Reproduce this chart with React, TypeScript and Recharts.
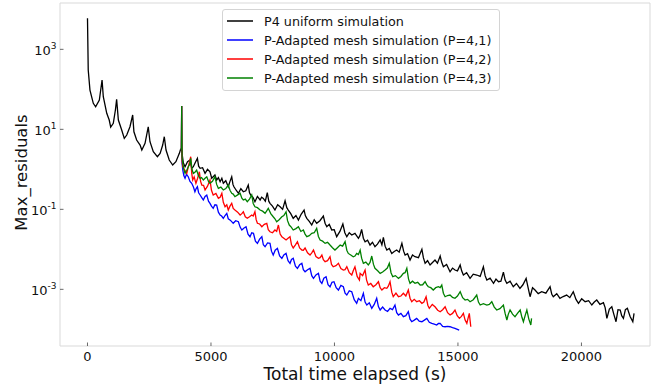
import React from 'react';
import { LineChart, Line, XAxis, YAxis, Legend, ReferenceArea, Label } from 'recharts';

// [time (s), max residual] pairs
const P4_UNIFORM: [number, number][] = [
  [0, 5960], [30, 304], [100, 96], [235, 44.7], [330, 36.7], [480, 54], [590, 171], [640, 65.3],
  [780, 25.1], [880, 17.1], [940, 11.4], [1045, 14.1], [1130, 30.4], [1180, 56.2], [1250, 17.1],
  [1385, 9.6], [1490, 5.96], [1590, 7.2], [1720, 11.6], [1830, 22.8], [1880, 8.7], [1990, 5.4],
  [2130, 4.05], [2200, 3.04], [2330, 4.47], [2460, 11.6], [2530, 4.9], [2665, 2.75], [2830, 2.07],
  [2940, 2.51], [3045, 4.05], [3110, 6.53], [3180, 3.04], [3310, 1.71], [3450, 1.28], [3580, 1.55],
  [3720, 2.51], [3770, 3.16], [3810, 3.04], [3880, 1.45], [3950, 1.16], [4050, 1.55], [4150, 1.71],
  [4220, 1.05], [4285, 1.16], [4370, 1.5], [4450, 1.88], [4500, 1.2], [4560, 1.06], [4660, 1.1],
  [4760, 0.794], [4860, 1.0], [4960, 0.871], [5030, 0.6], [5090, 0.653], [5160, 0.72], [5230, 0.54],
  [5300, 0.62], [5370, 0.49], [5440, 0.6], [5500, 0.447], [5600, 0.52], [5700, 0.367], [5770, 0.5],
  [5840, 0.653], [5890, 0.42], [5930, 0.367], [6020, 0.3], [6110, 0.251], [6210, 0.33], [6310, 0.275],
  [6410, 0.29], [6510, 0.405], [6560, 0.26], [6610, 0.228], [6700, 0.2], [6780, 0.155], [6880, 0.21],
  [6990, 0.171], [7050, 0.2], [7120, 0.188], [7200, 0.16], [7280, 0.26], [7340, 0.16], [7390, 0.141],
  [7490, 0.12], [7590, 0.096], [7700, 0.13], [7800, 0.116], [7900, 0.1], [8000, 0.164], [8070, 0.11],
  [8130, 0.096], [8230, 0.078], [8330, 0.0596], [8440, 0.07], [8540, 0.054], [8650, 0.075], [8770, 0.096],
  [8820, 0.07], [8880, 0.0596], [8980, 0.05], [9080, 0.0405], [9180, 0.055], [9280, 0.0447], [9410, 0.052],
  [9550, 0.068], [9620, 0.045], [9690, 0.0367], [9790, 0.042], [9890, 0.0304], [9990, 0.031], [10090, 0.0207],
  [10220, 0.028], [10340, 0.0429], [10420, 0.026], [10500, 0.0207], [10600, 0.026], [10700, 0.0228],
  [10830, 0.025], [10970, 0.0188], [11030, 0.022], [11100, 0.0316], [11170, 0.019], [11240, 0.0155],
  [11340, 0.017], [11440, 0.0128], [11540, 0.015], [11640, 0.0116], [11740, 0.0135], [11850, 0.0171],
  [11920, 0.013], [11980, 0.02], [12050, 0.012], [12120, 0.0096], [12220, 0.0105], [12320, 0.0079],
  [12420, 0.0088], [12520, 0.0096], [12620, 0.0085], [12730, 0.0141], [12800, 0.009], [12860, 0.0072],
  [12960, 0.0078], [13060, 0.0054], [13160, 0.0072], [13260, 0.00653], [13400, 0.0062], [13540, 0.01],
  [13600, 0.0062], [13670, 0.00447], [13770, 0.0052], [13870, 0.00405], [13970, 0.0047], [14070, 0.0054],
  [14170, 0.0045], [14280, 0.0068], [14340, 0.0048], [14410, 0.00367], [14540, 0.0042], [14680, 0.00275],
  [14780, 0.0034], [14880, 0.00304], [14980, 0.0029], [15090, 0.00405], [15150, 0.0029], [15220, 0.00228],
  [15350, 0.0026], [15490, 0.00188], [15620, 0.0024], [15760, 0.00228], [15900, 0.0021], [16030, 0.00367],
  [16100, 0.0022], [16170, 0.00171], [16300, 0.0019], [16440, 0.00141], [16540, 0.0018], [16640, 0.00155],
  [16740, 0.0016], [16840, 0.0027], [16910, 0.0017], [16980, 0.00141], [17110, 0.0016], [17240, 0.00116],
  [17370, 0.0014], [17510, 0.00106], [17630, 0.0013], [17760, 0.00188], [17840, 0.0011], [17920, 0.000653],
  [18020, 0.0011], [18120, 0.00096], [18250, 0.00078], [18390, 0.00087], [18560, 0.0008], [18730, 0.00116],
  [18800, 0.00075], [18860, 0.000653], [19000, 0.00078], [19130, 0.000596], [19260, 0.00066], [19400, 0.00072],
  [19530, 0.00062], [19670, 0.00087], [19780, 0.00056], [19880, 0.000447], [20010, 0.00058], [20150, 0.00049],
  [20290, 0.00052], [20420, 0.000405], [20520, 0.00048], [20620, 0.00054], [20750, 0.00042], [20890, 0.000462],
  [20960, 0.00035], [21030, 0.000188], [21130, 0.00032], [21230, 0.000367], [21310, 0.00024], [21400, 0.000155],
  [21480, 0.00031], [21570, 0.000304], [21630, 0.00022], [21700, 0.000188], [21780, 0.00031], [21860, 0.000335],
  [21970, 0.00021], [22080, 0.000155], [22130, 0.000251],
];

const P_ADAPTED_41: [number, number][] = [
  [3800, 3.0], [3815, 38.2], [3830, 1.4], [3860, 0.96], [3900, 0.7], [3950, 0.596], [4010, 0.75], [4080, 0.653],
  [4150, 0.5], [4220, 0.447], [4290, 0.36], [4350, 0.275], [4400, 0.33], [4450, 0.367], [4500, 0.26],
  [4560, 0.228], [4620, 0.2], [4690, 0.171], [4760, 0.21], [4830, 0.228], [4900, 0.16], [4960, 0.141],
  [5020, 0.12], [5090, 0.106], [5160, 0.13], [5230, 0.128], [5300, 0.085], [5370, 0.072], [5430, 0.068],
  [5500, 0.0596], [5570, 0.07], [5640, 0.0794], [5700, 0.058], [5770, 0.054], [5830, 0.05], [5900, 0.0447],
  [6000, 0.052], [6110, 0.049], [6180, 0.036], [6250, 0.0304], [6340, 0.034], [6420, 0.0367], [6500, 0.024],
  [6580, 0.0207], [6650, 0.026], [6720, 0.0251], [6800, 0.016], [6880, 0.0141], [6970, 0.018], [7060, 0.0207],
  [7120, 0.013], [7190, 0.0116], [7290, 0.0145], [7390, 0.0141], [7450, 0.009], [7520, 0.0072], [7600, 0.0095],
  [7690, 0.0106], [7780, 0.0068], [7870, 0.00596], [7950, 0.0072], [8040, 0.0079], [8120, 0.0052],
  [8200, 0.00447], [8260, 0.0056], [8330, 0.00596], [8420, 0.0038], [8500, 0.00335], [8590, 0.0041],
  [8680, 0.00447], [8740, 0.0031], [8810, 0.00275], [8910, 0.0031], [9010, 0.00335], [9080, 0.0022],
  [9150, 0.00188], [9250, 0.0023], [9350, 0.00251], [9420, 0.0016], [9490, 0.00141], [9570, 0.0019],
  [9660, 0.00207], [9740, 0.0013], [9820, 0.00116], [9900, 0.0015], [9980, 0.00155], [10070, 0.0011],
  [10160, 0.00096], [10260, 0.00125], [10360, 0.00116], [10430, 0.0008], [10500, 0.00072], [10600, 0.00092],
  [10700, 0.00087], [10800, 0.00055], [10900, 0.000447], [10970, 0.000596], [11070, 0.00052], [11170, 0.000794],
  [11240, 0.00048], [11310, 0.000405], [11410, 0.00046], [11510, 0.000335], [11610, 0.00042], [11710, 0.000596],
  [11780, 0.00037], [11850, 0.000304], [11950, 0.00036], [12050, 0.000304], [12150, 0.00028], [12250, 0.000335],
  [12350, 0.00031], [12450, 0.000405], [12520, 0.00026], [12590, 0.000228], [12690, 0.00025], [12790, 0.000207],
  [12890, 0.00022], [12990, 0.000275], [13060, 0.00018], [13130, 0.000155], [13230, 0.00017], [13330, 0.000188],
  [13430, 0.00016], [13540, 0.000155], [13640, 0.00017], [13740, 0.000188], [13840, 0.00015], [13940, 0.000141],
  [14040, 0.000135], [14140, 0.000128], [14210, 0.00014], [14280, 0.000141], [14380, 0.000118], [14480, 0.000116],
  [14580, 0.000118], [14680, 0.000116], [14780, 0.00011], [14880, 0.000106], [15050, 0.000096],
];

const P_ADAPTED_42: [number, number][] = [
  [3800, 3.0], [3815, 38.2], [3830, 1.6], [3860, 1.16], [3940, 0.95], [4020, 0.794], [4100, 1.3], [4180, 2.07],
  [4220, 0.8], [4260, 0.54], [4320, 0.65], [4390, 0.447], [4460, 0.6], [4530, 0.871], [4580, 0.5], [4630, 0.405],
  [4700, 0.4], [4760, 0.304], [4860, 0.38], [4960, 0.54], [5020, 0.3], [5090, 0.228], [5200, 0.25], [5300, 0.188],
  [5370, 0.2], [5440, 0.251], [5500, 0.15], [5570, 0.116], [5640, 0.13], [5700, 0.096], [5770, 0.12],
  [5840, 0.141], [5900, 0.105], [5970, 0.096], [6080, 0.085], [6180, 0.072], [6250, 0.078], [6310, 0.087],
  [6390, 0.065], [6470, 0.0596], [6560, 0.065], [6650, 0.072], [6710, 0.068], [6780, 0.087], [6830, 0.055],
  [6880, 0.0447], [6970, 0.043], [7060, 0.0367], [7160, 0.042], [7260, 0.0447], [7320, 0.031], [7390, 0.0275],
  [7490, 0.026], [7590, 0.0304], [7660, 0.028], [7730, 0.0405], [7800, 0.024], [7870, 0.0207], [7950, 0.019],
  [8040, 0.0171], [8120, 0.019], [8200, 0.0207], [8260, 0.013], [8330, 0.0108], [8420, 0.013], [8500, 0.0155],
  [8590, 0.0108], [8680, 0.0096], [8740, 0.0095], [8810, 0.0108], [8910, 0.0082], [9010, 0.0072], [9080, 0.0082],
  [9150, 0.0096], [9250, 0.0066], [9350, 0.00596], [9420, 0.0062], [9490, 0.0072], [9550, 0.0055], [9620, 0.0049],
  [9720, 0.0052], [9820, 0.00653], [9880, 0.0042], [9950, 0.00367], [10060, 0.0039], [10160, 0.00447],
  [10260, 0.0033], [10360, 0.00304], [10430, 0.0031], [10500, 0.00367], [10600, 0.0026], [10700, 0.00228],
  [10760, 0.0029], [10830, 0.00367], [10920, 0.0021], [11010, 0.00171], [11040, 0.00251], [11140, 0.0022],
  [11240, 0.00304], [11300, 0.0017], [11370, 0.00128], [11470, 0.0014], [11570, 0.00116], [11680, 0.0013],
  [11780, 0.00155], [11850, 0.0011], [11920, 0.00096], [12020, 0.0011], [12120, 0.00106], [12180, 0.0012],
  [12250, 0.00155], [12320, 0.00085], [12380, 0.000653], [12490, 0.0008], [12590, 0.000653], [12690, 0.00068],
  [12790, 0.000794], [12890, 0.00068], [12990, 0.00096], [13060, 0.0006], [13130, 0.00049], [13230, 0.00056],
  [13330, 0.00049], [13440, 0.00052], [13540, 0.000447], [13620, 0.00048], [13710, 0.000653], [13780, 0.0004],
  [13840, 0.000335], [13960, 0.00042], [14070, 0.000367], [14180, 0.0003], [14280, 0.000275], [14380, 0.00031],
  [14480, 0.000367], [14580, 0.00026], [14680, 0.000228], [14780, 0.00025], [14880, 0.000304], [14970, 0.00022],
  [15060, 0.000188], [15140, 0.00021], [15220, 0.000251], [15290, 0.00017], [15360, 0.000141], [15410, 0.00019],
  [15460, 0.000251], [15520, 0.000116],
];

const P_ADAPTED_43: [number, number][] = [
  [3800, 3.0], [3815, 38.2], [3830, 2.0], [3860, 1.41], [3900, 1.0], [3950, 0.794], [4020, 0.95], [4080, 1.16],
  [4130, 1.3], [4180, 1.88], [4230, 1.0], [4285, 0.794], [4350, 0.85], [4420, 0.96], [4490, 0.7], [4560, 0.596],
  [4620, 0.62], [4690, 0.54], [4760, 0.6], [4830, 0.653], [4900, 0.5], [4960, 0.447], [5060, 0.5], [5160, 0.653],
  [5230, 0.42], [5300, 0.335], [5400, 0.36], [5500, 0.304], [5600, 0.33], [5700, 0.405], [5770, 0.3],
  [5840, 0.251], [5900, 0.24], [5970, 0.207], [6080, 0.23], [6180, 0.251], [6250, 0.19], [6310, 0.171],
  [6390, 0.18], [6470, 0.155], [6560, 0.18], [6650, 0.228], [6710, 0.14], [6780, 0.116], [6880, 0.11],
  [6990, 0.096], [7090, 0.09], [7190, 0.0794], [7250, 0.09], [7320, 0.106], [7420, 0.078], [7520, 0.0653],
  [7590, 0.058], [7660, 0.049], [7760, 0.055], [7870, 0.0653], [7950, 0.07], [8040, 0.087], [8100, 0.052],
  [8170, 0.0405], [8250, 0.036], [8330, 0.0304], [8440, 0.033], [8540, 0.0367], [8640, 0.028], [8740, 0.0304],
  [8810, 0.024], [8880, 0.0207], [8980, 0.022], [9080, 0.0251], [9180, 0.026], [9280, 0.0335], [9350, 0.021],
  [9420, 0.0171], [9520, 0.016], [9620, 0.0141], [9720, 0.015], [9820, 0.0128], [9920, 0.011], [10020, 0.0096],
  [10120, 0.011], [10230, 0.0128], [10330, 0.012], [10430, 0.0155], [10500, 0.0095], [10560, 0.0079],
  [10660, 0.0072], [10760, 0.00653], [10830, 0.0068], [10900, 0.0079], [10970, 0.0074], [11040, 0.0096],
  [11100, 0.006], [11170, 0.00447], [11270, 0.0048], [11370, 0.00405], [11440, 0.0047], [11510, 0.0068],
  [11580, 0.0042], [11640, 0.00335], [11750, 0.0029], [11850, 0.00251], [11950, 0.0027], [12050, 0.00304],
  [12140, 0.0034], [12220, 0.00447], [12290, 0.0026], [12360, 0.00207], [12470, 0.0022], [12590, 0.00188],
  [12690, 0.0021], [12790, 0.00251], [12860, 0.0026], [12930, 0.00335], [13000, 0.0018], [13060, 0.00141],
  [13160, 0.0016], [13260, 0.00141], [13370, 0.0015], [13470, 0.00128], [13570, 0.0013], [13670, 0.00155],
  [13740, 0.0013], [13800, 0.00116], [13900, 0.0011], [14000, 0.00096], [14100, 0.0011], [14210, 0.00116],
  [14280, 0.0011], [14345, 0.00128], [14410, 0.0008], [14480, 0.000653], [14580, 0.0007], [14680, 0.00072],
  [14780, 0.00063], [14880, 0.000596], [14980, 0.00068], [15090, 0.00087], [15190, 0.00062], [15290, 0.00054],
  [15390, 0.00056], [15490, 0.00049], [15620, 0.00055], [15760, 0.00072], [15830, 0.00048], [15900, 0.000405],
  [16030, 0.00044], [16170, 0.000405], [16270, 0.00042], [16370, 0.00049], [16470, 0.00036], [16570, 0.000304],
  [16700, 0.00033], [16840, 0.000405], [16910, 0.00025], [16980, 0.000171], [17040, 0.00024], [17110, 0.000304],
  [17210, 0.00024], [17310, 0.000207], [17410, 0.00025], [17520, 0.000304], [17590, 0.0002], [17650, 0.000155],
  [17720, 0.00022], [17790, 0.000304], [17870, 0.00018], [17950, 0.000128], [17980, 0.000188],
];

const SERIES = [
  { name: 'P4 uniform simulation', color: '#000000', points: P4_UNIFORM },
  { name: 'P-Adapted mesh simulation (P=4,1)', color: '#0000ff', points: P_ADAPTED_41 },
  { name: 'P-Adapted mesh simulation (P=4,2)', color: '#ff0000', points: P_ADAPTED_42 },
  { name: 'P-Adapted mesh simulation (P=4,3)', color: '#008000', points: P_ADAPTED_43 },
];

const X_TICKS = [0, 5000, 10000, 15000, 20000];
const Y_TICKS = [1e-3, 1e-1, 1e1, 1e3];
const X_DOMAIN: [number, number] = [-1113, 22776];
const Y_DOMAIN: [number, number] = [3.83e-5, 1.44e4];

const FONT = '"DejaVu Sans", sans-serif';

function TimeTick(props: any) {
  const { x, y, payload } = props;
  return (
    <g>
      <line x1={x} x2={x} y1={y} y2={y - 3.5} stroke="#444" strokeWidth={0.8} />
      <text x={x} y={y + 15} textAnchor="middle" fontSize={13} fill="#111" fontFamily={FONT}>
        {payload.value}
      </text>
    </g>
  );
}

function LogTick(props: any) {
  const { x, y, payload } = props;
  const exp = Math.round(Math.log10(payload.value));
  return (
    <g>
      <line x1={x} x2={x + 3.5} y1={y} y2={y} stroke="#444" strokeWidth={0.8} />
      <text x={x - 3.5} y={y} textAnchor="end" fontSize={13} fill="#111" fontFamily={FONT}>
        <tspan dy="0.4em">10</tspan>
        <tspan dy="-0.62em" fontSize={9}>{exp}</tspan>
      </text>
    </g>
  );
}

function LegendBox() {
  return (
    <div
      style={{
        position: 'relative',
        width: 276,
        height: 80,
        border: '1px solid #d4d4d4',
        borderRadius: 3,
        background: 'rgba(255,255,255,0.8)',
        fontFamily: FONT,
        fontSize: 12.75,
        color: '#111',
      }}
    >
      {SERIES.map((s, i) => (
        <div
          key={s.name}
          style={{ position: 'absolute', left: 4, top: 1.5 + i * 19, height: 19, display: 'flex', alignItems: 'center', whiteSpace: 'nowrap' }}
        >
          <span style={{ display: 'inline-block', width: 26, height: 1.3, background: s.color, opacity: 0.75, marginRight: 11 }} />
          <span>{s.name}</span>
        </div>
      ))}
    </div>
  );
}

export default function App() {
  return (
    <div style={{ position: 'absolute', left: 0, top: 0, width: 652, height: 385, background: '#fff' }}>
      <LineChart width={652} height={385} margin={{ top: 3, right: 2, left: 0, bottom: 0 }}>
        <ReferenceArea
          x1={X_DOMAIN[0]}
          x2={X_DOMAIN[1]}
          y1={Y_DOMAIN[0]}
          y2={Y_DOMAIN[1]}
          fill="none"
          stroke="#d9d9d9"
          strokeWidth={1}
        />
        <XAxis
          dataKey="t"
          type="number"
          domain={X_DOMAIN}
          allowDataOverflow
          ticks={X_TICKS}
          tick={<TimeTick />}
          tickLine={false}
          axisLine={false}
          tickSize={0}
          tickMargin={0}
          height={39}
        >
          <Label
            content={(p: any) => (
              <text
                x={p.viewBox.x + p.viewBox.width / 2}
                y={p.viewBox.y + 34}
                textAnchor="middle"
                fontSize={17}
                fill="#111"
                fontFamily={FONT}
              >
                Total time elapsed (s)
              </text>
            )}
          />
        </XAxis>
        <YAxis
          dataKey="v"
          scale="log"
          type="number"
          domain={Y_DOMAIN}
          allowDataOverflow
          ticks={Y_TICKS}
          tick={<LogTick />}
          tickLine={false}
          axisLine={false}
          tickSize={0}
          tickMargin={0}
          width={60}
        >
          <Label
            content={(p: any) => {
              const cx = p.viewBox.x + 26.5;
              const cy = p.viewBox.y + p.viewBox.height / 2 - 2;
              return (
                <text
                  x={cx}
                  y={cy}
                  transform={`rotate(-90 ${cx} ${cy})`}
                  textAnchor="middle"
                  fontSize={16.5}
                  fill="#111"
                  fontFamily={FONT}
                >
                  Max_residuals
                </text>
              );
            }}
          />
        </YAxis>
        {SERIES.map((s) => (
          <Line
            key={s.name}
            name={s.name}
            data={s.points.map(([t, v]) => ({ t, v }))}
            dataKey="v"
            type="linear"
            stroke={s.color}
            strokeWidth={1.3}
            dot={false}
            isAnimationActive={false}
          />
        ))}
        <Legend
          layout="vertical"
          align="center"
          verticalAlign="middle"
          content={<LegendBox />}
          wrapperStyle={{ left: 222, top: 9, width: 278, height: 82 }}
        />
      </LineChart>
    </div>
  );
}
